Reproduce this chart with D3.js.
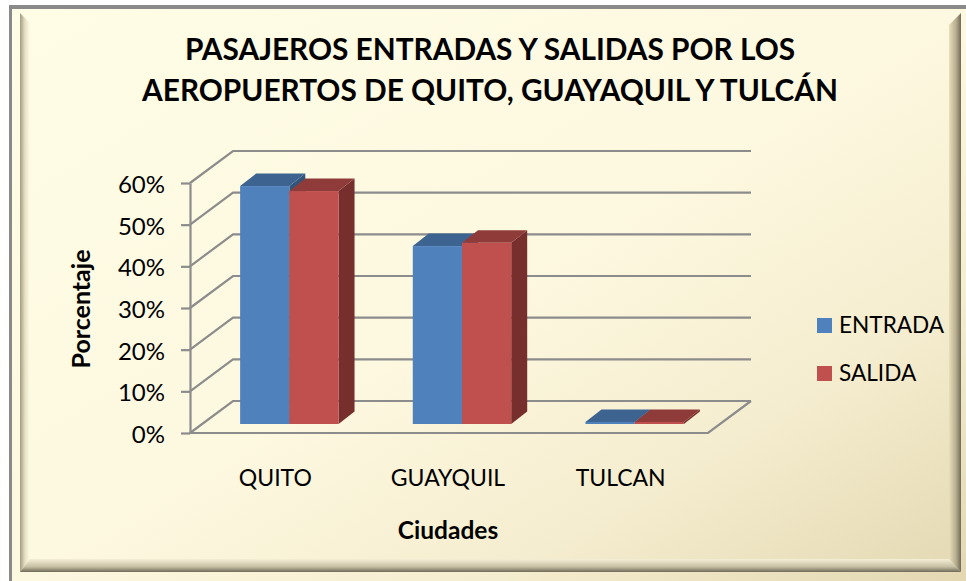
<!DOCTYPE html>
<html>
<head>
<meta charset="utf-8">
<script src="https://cdn.jsdelivr.net/npm/d3@7"></script>
<style>
  html, body { margin: 0; padding: 0; background: #fff; }
  svg { display: block; }
  text { font-family: Lato, "Open Sans", sans-serif; fill: #000; }
</style>
</head>
<body>
<div id="container"></div>
<script>
let w = 966;
let h = 581;

// data
let cities = ["QUITO", "GUAYQUIL", "TULCAN"];
let seriesNames = ["ENTRADA", "SALIDA"];
let entrada = [57.1, 42.7, 0.5];
let salida = [55.9, 43.5, 0.5];
let yTicks = [0, 10, 20, 30, 40, 50, 60];
let titleLines = ["PASAJEROS ENTRADAS Y SALIDAS POR LOS", "AEROPUERTOS DE QUITO, GUAYAQUIL Y TULCÁN"];

let faceColors = ["#4f81bd", "#c0504d"];
let topColors = ["#3d6491", "#8f3b39"];
let sideColors = ["#33557c", "#772f2e"];

// front plane of the 3d box and how far the back wall is pushed
let plotLeft = 190;
let plotRight = 708;
let plotTop = 183;
let plotBottom = 433;
let wallDx = 43;
let wallDy = -32;
let barPlaneDx = 13;
let barPlaneDy = -9;
let barDepthDx = 16;
let barDepthDy = -12.5;

let viz = d3.select("#container")
  .append("svg")
    .attr("width", w)
    .attr("height", h)
;

let defs = viz.append("defs");

function addGradient(id, x1, y1, x2, y2, stops){
  let g = defs.append("linearGradient")
    .attr("id", id)
    .attr("x1", x1).attr("y1", y1).attr("x2", x2).attr("y2", y2);
  stops.forEach(function(s){
    g.append("stop").attr("offset", s[0]).attr("stop-color", s[1]);
  });
}

addGradient("bg", 0, 0, 1, 1, [[0, "#fffde6"], [0.5, "#fdf8e0"], [0.75, "#f5edcf"], [1, "#e3d8b2"]]);
addGradient("bevelLeft", 0, 0, 1, 0, [[0, "#a39c84"], [0.5, "#e6e0c4"], [1, "#fffde6"]]);
addGradient("bevelRight", 0, 0, 1, 0, [[0, "#e9dfbb"], [0.6, "#b5ab8c"], [1, "#6f6a58"]]);
addGradient("bevelBottom", 0, 0, 0, 1, [[0, "#f5efd6"], [0.6, "#c6bfa4"], [1, "#6f6a58"]]);

// frame: only the top and left edges carry the grey line, the rest runs off the picture
viz.append("rect")
  .attr("x", 9).attr("y", 5)
  .attr("width", w - 9).attr("height", h - 5)
  .attr("fill", "#8a8a8a")
;
viz.append("rect")
  .attr("x", 12).attr("y", 9)
  .attr("width", w - 12).attr("height", h - 9)
  .attr("fill", "url(#bg)")
;

let inL = 20, inT = 13, inR = 961, inB = 572;
let bL = 10, bR = 12, bB = 13;
function bevel(points, fill){
  viz.append("polygon")
    .attr("points", points.map(function(p){ return p.join(","); }).join(" "))
    .attr("fill", fill);
}
bevel([[inL, inT], [inL + bL, inT + bL], [inL + bL, inB - bB], [inL, inB]], "url(#bevelLeft)");
bevel([[inR, inT], [inR, inB], [inR - bR, inB - bB], [inR - bR, inT + bR]], "url(#bevelRight)");
bevel([[inL, inB], [inL + bL, inB - bB], [inR - bR, inB - bB], [inR, inB]], "url(#bevelBottom)");

// scales
let yScale = d3.scaleLinear().domain([0, 60]).range([plotBottom, plotTop]);
let xScale = d3.scaleBand().domain(cities).range([plotLeft, plotRight]).paddingInner(0.43).paddingOuter(0.215);
let xInner = d3.scaleBand().domain(seriesNames).range([0, xScale.bandwidth()]);

// walls and floor lines
let grid = viz.append("g").attr("class", "grid")
  .attr("fill", "none")
  .attr("stroke", "#8c8c8c")
  .attr("stroke-width", 2.2)
;
yTicks.forEach(function(t){
  let yy = yScale(t);
  grid.append("path")
    .attr("d", d3.line()([[plotLeft, yy], [plotLeft + wallDx, yy + wallDy], [plotLeft + wallDx + plotRight - plotLeft, yy + wallDy]]));
});
grid.append("path")
  .attr("d", d3.line()([[plotLeft, plotBottom], [plotRight, plotBottom], [plotRight + wallDx, plotBottom + wallDy]]));

// y axis
let yAxis = d3.axisLeft(yScale)
  .tickValues(yTicks)
  .tickFormat(function(d){ return d + "%"; })
  .tickSize(9)
  .tickSizeOuter(0)
  .tickPadding(16);
let yAxisGroup = viz.append("g").attr("class", "yaxis")
  .attr("transform", "translate(" + plotLeft + ",0)")
  .call(yAxis);
yAxisGroup.selectAll("line").attr("stroke", "#8c8c8c").attr("stroke-width", 2.2);
yAxisGroup.select(".domain").attr("stroke", "#8c8c8c").attr("stroke-width", 2.2);
yAxisGroup.selectAll("text")
  .attr("font-size", 24)
  .attr("dy", "0.4em")
  .style("font-family", "Lato, sans-serif")
  .attr("fill", "#000");

// bars
let barData = [];
cities.forEach(function(c, i){
  barData.push({city: c, s: 0, value: entrada[i]});
});
cities.forEach(function(c, i){
  barData.push({city: c, s: 1, value: salida[i]});
});

let bars = viz.append("g").attr("class", "bars")
  .attr("transform", "translate(" + barPlaneDx + "," + barPlaneDy + ")");

barData.forEach(function(d){
  let x0 = xScale(d.city) + xInner(seriesNames[d.s]);
  let x1 = x0 + xInner.bandwidth();
  let y0 = yScale(d.value);
  let y1 = yScale(0);
  let dx = barDepthDx, dy = barDepthDy;
  let g = bars.append("g");
  g.append("polygon")
    .attr("points", [[x1, y0], [x1 + dx, y0 + dy], [x1 + dx, y1 + dy], [x1, y1]].join(" "))
    .attr("fill", sideColors[d.s]);
  g.append("polygon")
    .attr("points", [[x0, y0], [x0 + dx, y0 + dy], [x1 + dx, y0 + dy], [x1, y0]].join(" "))
    .attr("fill", topColors[d.s]);
  g.append("rect")
    .attr("x", x0).attr("y", y0)
    .attr("width", x1 - x0).attr("height", y1 - y0)
    .attr("fill", faceColors[d.s]);
});

// category labels
viz.append("g").selectAll("text")
  .data(cities)
  .enter()
  .append("text")
    .text(function(d){ return d; })
    .attr("x", function(d){ return xScale(d) + xScale.bandwidth() / 2 - 1; })
    .attr("y", 486)
    .attr("text-anchor", "middle")
    .attr("font-size", 23)
;

// titles
viz.append("g").selectAll("text")
  .data(titleLines)
  .enter()
  .append("text")
    .text(function(d){ return d; })
    .attr("x", 490)
    .attr("y", function(d, i){ return 60 + i * 41; })
    .attr("text-anchor", "middle")
    .attr("font-size", 29.8)
    .attr("font-weight", "bold")
;

viz.append("text")
  .text("Ciudades")
  .attr("x", 448)
  .attr("y", 539)
  .attr("text-anchor", "middle")
  .attr("font-size", 24.5)
  .attr("font-weight", "bold")
;

viz.append("text")
  .text("Porcentaje")
  .attr("transform", "translate(90,309) rotate(-90)")
  .attr("text-anchor", "middle")
  .attr("font-size", 25)
  .attr("font-weight", "bold")
;

// legend
let legend = viz.append("g").selectAll("g")
  .data(seriesNames)
  .enter()
  .append("g")
    .attr("transform", function(d, i){ return "translate(817," + (318 + i * 48) + ")"; })
;
legend.append("rect")
  .attr("width", 15).attr("height", 15)
  .attr("fill", function(d, i){ return faceColors[i]; });
legend.append("text")
  .text(function(d){ return d; })
  .attr("x", 22)
  .attr("y", 15)
  .attr("font-size", 22.6);
</script>
</body>
</html>
